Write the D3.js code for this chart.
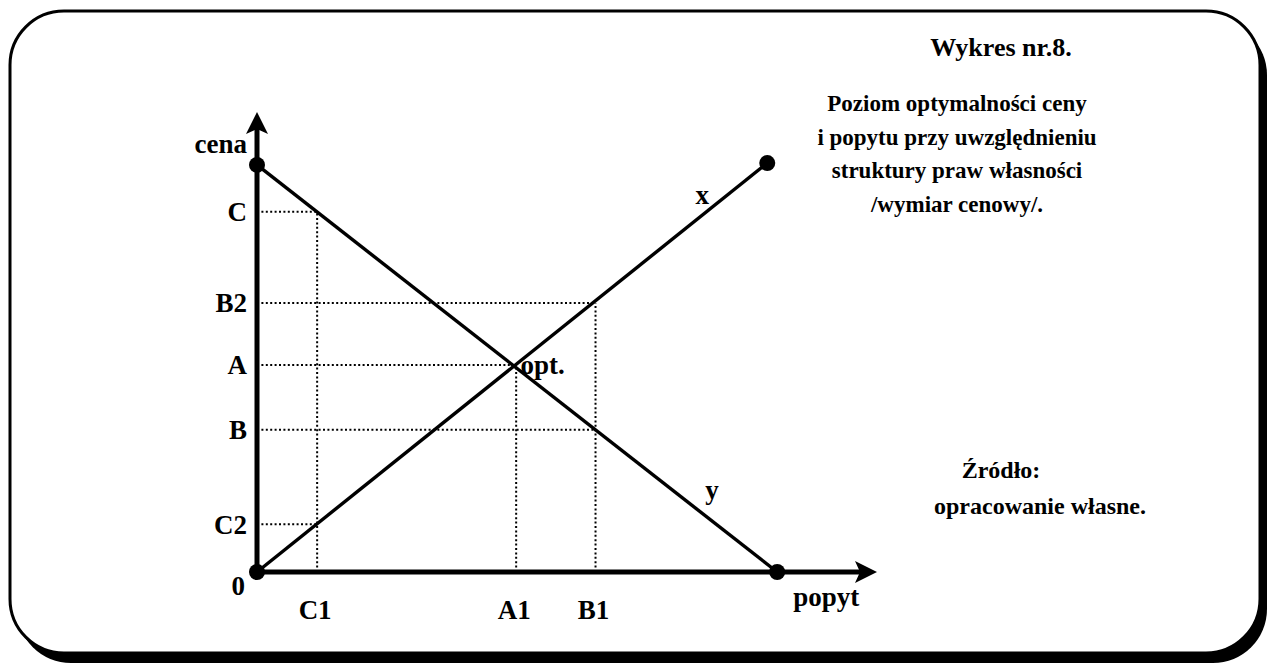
<!DOCTYPE html>
<html>
<head>
<meta charset="utf-8">
<script src="https://cdn.jsdelivr.net/npm/d3@7"></script>
<style>
  body { margin: 0; background: #fff; }
  svg text { font-family: "Liberation Serif", "Times New Roman", serif; font-weight: bold; fill: #000; }
</style>
</head>
<body>
<div class="chart-wrapper"></div>
<script>
let chartW = 1267;
let chartH = 663;

// price (cena) levels on the y axis, in chart units 0..100
let priceLabels = ["C", "B2", "A", "B", "C2"];
let priceValues = [78.3, 58.5, 45.0, 30.9, 10.4];
// how far the dotted guide runs out to the right (quantity units)
let priceGuideTo = [9.7, 54.6, 41.8, 54.6, 9.7];

// quantity (popyt) levels on the x axis
let qtyLabels = ["C1", "A1", "B1"];
let qtyValues = [9.7, 41.8, 54.6];
let qtyGuideTo = [78.3, 45.0, 58.5];

// the two lines: x (rising) and y (falling)
let lineNames = ["x", "y"];
let lineX = [[0, 0], [82.3, 88.9]];
let lineY = [[0, 88.5], [83.9, 0]];
let lineLabelPos = [[71.8, 82.0], [73.4, 18.0]];

let titleLines = ["Poziom optymalności ceny", "i popytu przy uwzględnieniu", "struktury praw własności", "/wymiar cenowy/."];
let sourceLines = ["Źródło:", "opracowanie własne."];

let viz = d3.select(".chart-wrapper")
          .append("svg")
          .attr("width", chartW)
          .attr("height", chartH)
;

// frame with the heavy shadow bottom/right
viz.append("rect")
    .attr("x", 17).attr("y", 21)
    .attr("width", 1250).attr("height", 642)
    .attr("rx", 54).attr("ry", 54)
    .attr("fill", "#000")
;
viz.append("rect")
    .attr("x", 10).attr("y", 11)
    .attr("width", 1250).attr("height", 642)
    .attr("rx", 54).attr("ry", 54)
    .attr("fill", "#fff")
    .attr("stroke", "#000")
    .attr("stroke-width", 3)
;

let xScale = d3.scaleLinear().domain([0, 100]).range([257, 877]);
let yScale = d3.scaleLinear().domain([0, 100]).range([572, 112]);

// dotted guides
let guides = viz.append("g").attr("class", "guides")
                  .attr("stroke", "#000")
                  .attr("stroke-width", 2)
                  .attr("stroke-dasharray", "2,2.4")
;
guides.selectAll(".hguide").data(priceValues).enter()
        .append("line")
        .attr("class", "hguide")
        .attr("x1", xScale(0))
        .attr("x2", (d, i) => xScale(priceGuideTo[i]))
        .attr("y1", d => yScale(d))
        .attr("y2", d => yScale(d))
;
guides.selectAll(".vguide").data(qtyValues).enter()
        .append("line")
        .attr("class", "vguide")
        .attr("x1", d => xScale(d))
        .attr("x2", d => xScale(d))
        .attr("y1", yScale(0))
        .attr("y2", (d, i) => yScale(qtyGuideTo[i]))
;

// the two lines
let lineGen = d3.line().x(d => xScale(d[0])).y(d => yScale(d[1]));
let allLines = [lineX, lineY];
viz.selectAll(".dataline").data(allLines).enter()
    .append("path")
    .attr("class", "dataline")
    .attr("d", lineGen)
    .attr("fill", "none")
    .attr("stroke", "#000")
    .attr("stroke-width", 3.4)
;

// axes (drawn by hand, no ticks)
let axisGroup = viz.append("g").attr("class", "axes");
axisGroup.append("line")
    .attr("x1", xScale(0)).attr("y1", yScale(0))
    .attr("x2", xScale(0)).attr("y2", yScale(100) + 14)
    .attr("stroke", "#000").attr("stroke-width", 5)
;
axisGroup.append("line")
    .attr("x1", xScale(0)).attr("y1", yScale(0))
    .attr("x2", xScale(100) - 14).attr("y2", yScale(0))
    .attr("stroke", "#000").attr("stroke-width", 5)
;
// arrow heads
let tipY = [xScale(0), yScale(100)];
axisGroup.append("path")
    .attr("d", "M" + tipY[0] + "," + tipY[1]
              + " L" + (tipY[0] - 11) + "," + (tipY[1] + 22)
              + " L" + tipY[0] + "," + (tipY[1] + 17)
              + " L" + (tipY[0] + 11) + "," + (tipY[1] + 22) + " Z")
    .attr("fill", "#000")
;
let tipX = [xScale(100), yScale(0)];
axisGroup.append("path")
    .attr("d", "M" + tipX[0] + "," + tipX[1]
              + " L" + (tipX[0] - 22) + "," + (tipX[1] - 11)
              + " L" + (tipX[0] - 17) + "," + tipX[1]
              + " L" + (tipX[0] - 22) + "," + (tipX[1] + 11) + " Z")
    .attr("fill", "#000")
;

// end dots
let dots = [lineX[0], lineX[1], lineY[0], lineY[1]];
viz.selectAll(".enddot").data(dots).enter()
    .append("circle")
    .attr("class", "enddot")
    .attr("cx", d => xScale(d[0]))
    .attr("cy", d => yScale(d[1]))
    .attr("r", 8)
    .attr("fill", "#000")
;

// labels
let labelSize = 27;
viz.selectAll(".plabel").data(priceLabels).enter()
    .append("text")
    .attr("class", "plabel")
    .attr("x", 247)
    .attr("y", (d, i) => yScale(priceValues[i]))
    .attr("dy", "0.35em")
    .attr("text-anchor", "end")
    .style("font-size", labelSize + "px")
    .text(d => d)
;
viz.append("text")
    .attr("x", 245).attr("y", yScale(0) + 14).attr("dy", "0.35em")
    .attr("text-anchor", "end")
    .style("font-size", labelSize + "px")
    .text("0")
;
viz.selectAll(".qlabel").data(qtyLabels).enter()
    .append("text")
    .attr("class", "qlabel")
    .attr("x", (d, i) => xScale(qtyValues[i]) - 2)
    .attr("y", yScale(0) + 38)
    .attr("dy", "0.35em")
    .attr("text-anchor", "middle")
    .style("font-size", labelSize + "px")
    .text(d => d)
;
viz.append("text")
    .attr("x", 247).attr("y", yScale(88.5) - 12)
    .attr("text-anchor", "end")
    .style("font-size", labelSize + "px")
    .text("cena")
;
viz.append("text")
    .attr("x", xScale(86.5)).attr("y", yScale(0) + 34)
    .style("font-size", labelSize + "px")
    .text("popyt")
;
viz.append("text")
    .attr("x", xScale(42.5)).attr("y", yScale(45.0)).attr("dy", "0.35em")
    .style("font-size", labelSize + "px")
    .text("opt.")
;
viz.selectAll(".linelabel").data(lineNames).enter()
    .append("text")
    .attr("class", "linelabel")
    .attr("x", (d, i) => xScale(lineLabelPos[i][0]))
    .attr("y", (d, i) => yScale(lineLabelPos[i][1]))
    .attr("dy", "0.35em")
    .attr("text-anchor", "middle")
    .style("font-size", labelSize + "px")
    .text(d => d)
;

// title block
viz.append("text")
    .attr("x", 1001).attr("y", 56)
    .attr("text-anchor", "middle")
    .style("font-size", "26px")
    .text("Wykres nr.8.")
;
viz.selectAll(".titleline").data(titleLines).enter()
    .append("text")
    .attr("class", "titleline")
    .attr("x", 957)
    .attr("y", (d, i) => 111 + i * 33.5)
    .attr("text-anchor", "middle")
    .style("font-size", "23px")
    .text(d => d)
;
viz.selectAll(".sourceline").data(sourceLines).enter()
    .append("text")
    .attr("class", "sourceline")
    .attr("x", (d, i) => i == 0 ? 1001 : 1040)
    .attr("y", (d, i) => 478 + i * 36)
    .attr("text-anchor", "middle")
    .style("font-size", "24px")
    .text(d => d)
;
</script>
</body>
</html>
